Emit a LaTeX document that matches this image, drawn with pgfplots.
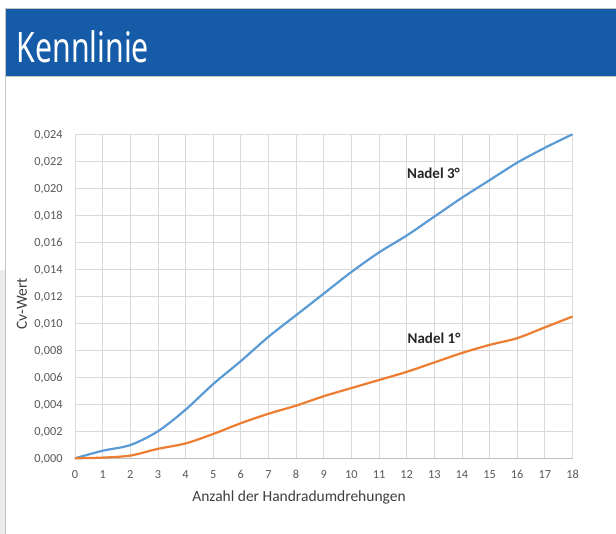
\documentclass[border=0pt]{standalone}
\usepackage{graphicx}
\usepackage{fontspec}
\setmainfont{Carlito}[Numbers=Lining]
\newfontfamily\titlefont{Noto Sans}
\usepackage{pgfplots}
\pgfplotsset{compat=1.18}
\definecolor{hdrblue}{HTML}{155BA8}
\definecolor{cblue}{HTML}{5B9BD5}
\definecolor{corange}{HTML}{ED7D31}
\definecolor{cgrid}{HTML}{D9D9D9}
\definecolor{caxis}{HTML}{BFBFBF}
\definecolor{ctick}{HTML}{595959}
\definecolor{clabel}{HTML}{404040}
\definecolor{cborder}{HTML}{C4C4C4}
\definecolor{cpanel}{HTML}{ECECEC}
\begin{document}
\begin{tikzpicture}[x=1pt,y=1pt]
\useasboundingbox (0,0) rectangle (616,534);
\fill[white] (0,0) rectangle (616,534);
% left gray panel
\fill[cpanel] (0,0) rectangle (5.5,264);
% card border
\draw[cborder, line width=0.8pt] (5.8,0) -- (5.8,525.8) -- (616,525.8);
% header band
\fill[hdrblue] (6.2,458.2) rectangle (616,525.4);
\draw[cborder, line width=0.6pt] (5.8,458) -- (616,458);
\node[anchor=base west, inner sep=0, text=white] at (16.5,471)
  {\scalebox{0.72}[1]{\fontsize{42}{48}\titlefont Kennlinie}};
\begin{axis}[
  at={(75pt,75.7pt)}, anchor=south west,
  scale only axis, width=497.5pt, height=324pt,
  xmin=0, xmax=18, ymin=0, ymax=0.024,
  xtick={0,1,2,3,4,5,6,7,8,9,10,11,12,13,14,15,16,17,18},
  ytick={0,0.002,0.004,0.006,0.008,0.010,0.012,0.014,0.016,0.018,0.020,0.022,0.024},
  scaled y ticks=false,
  yticklabel style={/pgf/number format/.cd, fixed, fixed zerofill, precision=3, use comma, /tikz/.cd},
  /pgf/number format/assume math mode=true,
  xmajorgrids, ymajorgrids,
  grid style={cgrid, line width=0.8pt},
  major tick length=0pt,
  axis x line*=bottom, axis y line*=left,
  x axis line style={draw=caxis, line width=0.9pt, -},
  y axis line style={draw=none},
  tick label style={text=ctick, font=\fontsize{12.3}{14}\selectfont, inner sep=0pt},
  xticklabel style={anchor=base, yshift=-20.1pt},
  yticklabel style={anchor=base east, xshift=-12.3pt, yshift=-3.9pt},
  clip=false,
]
\addplot[cblue, line width=2.2pt, smooth, tension=0.5] coordinates {
 (0,0) (1,0.00056) (2,0.00098) (3,0.0020) (4,0.0036) (5,0.0055) (6,0.0072)
 (7,0.0090) (8,0.0106) (9,0.0122) (10,0.0138) (11,0.01525) (12,0.0165)
 (13,0.0179) (14,0.0193) (15,0.0206) (16,0.0219) (17,0.0230) (18,0.0240)};
\addplot[corange, line width=2.2pt, smooth, tension=0.5] coordinates {
 (0,0) (1,0.00005) (2,0.0002) (3,0.0007) (4,0.0011) (5,0.0018) (6,0.0026)
 (7,0.0033) (8,0.0039) (9,0.0046) (10,0.0052) (11,0.0058) (12,0.0064)
 (13,0.0071) (14,0.0078) (15,0.0084) (16,0.0089) (17,0.0097) (18,0.0105)};
\node[font=\bfseries\fontsize{15}{18}\selectfont, text=black!85] at (axis cs:12.97,0.0211) {Nadel 3°};
\node[font=\bfseries\fontsize{15}{18}\selectfont, text=black!85] at (axis cs:12.99,0.0089) {Nadel 1°};
\end{axis}
\node[anchor=base, inner sep=0, text=clabel, font=\fontsize{15.5}{18}\selectfont] at (299,32.3) {Anzahl der Handradumdrehungen};
\node[rotate=90, inner sep=0, text=clabel, font=\fontsize{15.5}{18}\selectfont] at (22,230) {Cv-Wert};
\end{tikzpicture}
\end{document}
